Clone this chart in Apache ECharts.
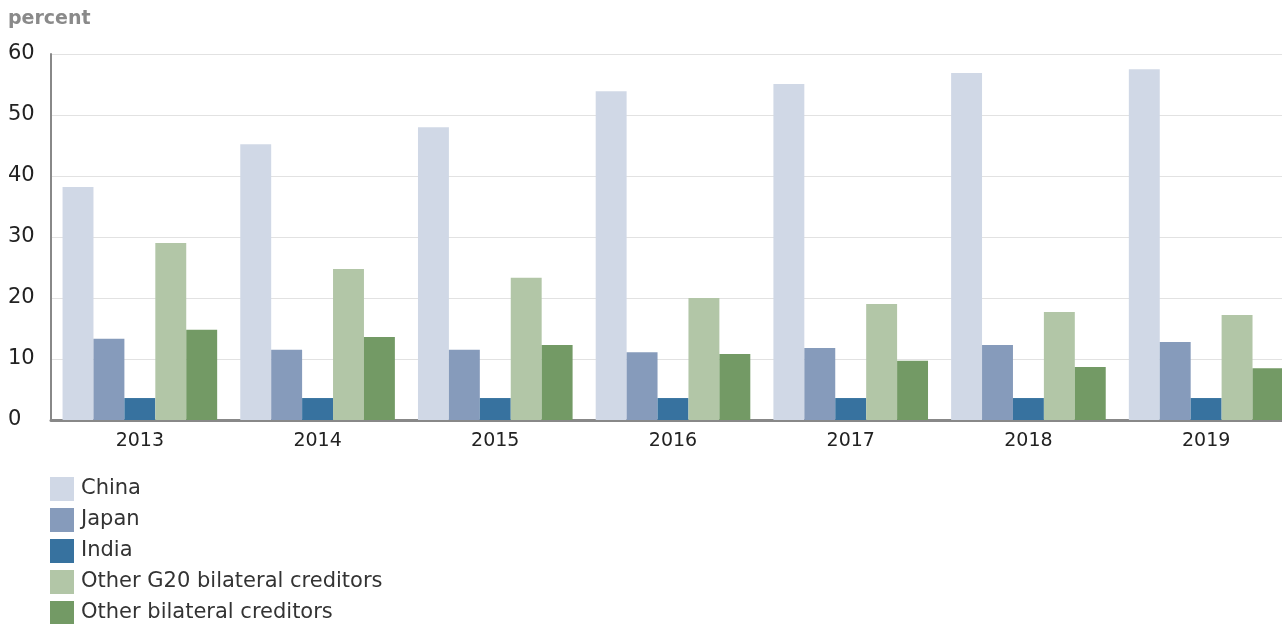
<!DOCTYPE html>
<html>
<head>
<meta charset="utf-8">
<script src="https://cdn.jsdelivr.net/npm/echarts@6/dist/echarts.min.js"></script>
<style>
  html, body { margin: 0; padding: 0; background: #fff; }
  #chart { width: 1282px; height: 624px; }
</style>
</head>
<body>
<div id="chart"></div>
<script>
var years = ['2013', '2014', '2015', '2016', '2017', '2018', '2019'];
var seriesNames = ['China', 'Japan', 'India', 'Other G20 bilateral creditors', 'Other bilateral creditors'];
var china = [38.2, 45.2, 48.0, 53.9, 55.1, 56.9, 57.5];
var japan = [13.3, 11.5, 11.5, 11.1, 11.8, 12.3, 12.8];
var india = [3.6, 3.6, 3.6, 3.6, 3.6, 3.6, 3.6];
var otherG20 = [29.0, 24.75, 23.3, 20.0, 19.0, 17.7, 17.2];
var otherBilateral = [14.8, 13.6, 12.3, 10.8, 9.7, 8.7, 8.5];
var yTicks = [0, 10, 20, 30, 40, 50, 60];

var colors = ['#d0d8e6', '#869bbb', '#37729f', '#b2c6a7', '#739a65'];
var font = 'DejaVu Sans';

var values = [china, japan, india, otherG20, otherBilateral];
var series = seriesNames.map(function (name, i) {
  return {
    name: name,
    type: 'bar',
    data: values[i],
    barGap: '0%',
    barCategoryGap: '13%',
    itemStyle: { color: colors[i] }
  };
});

var myChart = echarts.init(document.getElementById('chart'));
myChart.setOption({
  animation: false,
  backgroundColor: '#ffffff',
  title: {
    text: 'percent',
    left: 3,
    top: 5,
    textStyle: { fontFamily: font, fontSize: 19, fontWeight: 'bold', color: '#8a8a8a' }
  },
  legend: {
    orient: 'vertical',
    left: 50,
    top: 477,
    height: 170,
    padding: 0,
    itemWidth: 24,
    itemHeight: 24,
    itemGap: 7,
    icon: 'rect',
    textStyle: { fontFamily: font, fontSize: 21, color: '#333', padding: [2, 0, 0, 2] },
    data: seriesNames
  },
  grid: {
    left: 51,
    right: -13,
    top: 54,
    bottom: 204,
    containLabel: false,
    outerBoundsMode: 'none'
  },
  xAxis: {
    type: 'category',
    data: years,
    axisLine: { lineStyle: { color: '#888', width: 3 } },
    axisTick: { show: false },
    axisLabel: { fontFamily: font, fontSize: 19, color: '#222', margin: 12 }
  },
  yAxis: {
    type: 'value',
    min: yTicks[0],
    max: yTicks[yTicks.length - 1],
    interval: 10,
    axisLine: { show: true, lineStyle: { color: '#888', width: 2 } },
    axisTick: { show: false },
    splitLine: { lineStyle: { color: '#e2e2e2', width: 1 } },
    axisLabel: { fontFamily: font, fontSize: 21, color: '#222', align: 'left', margin: 43 }
  },
  series: series
});
</script>
</body>
</html>
